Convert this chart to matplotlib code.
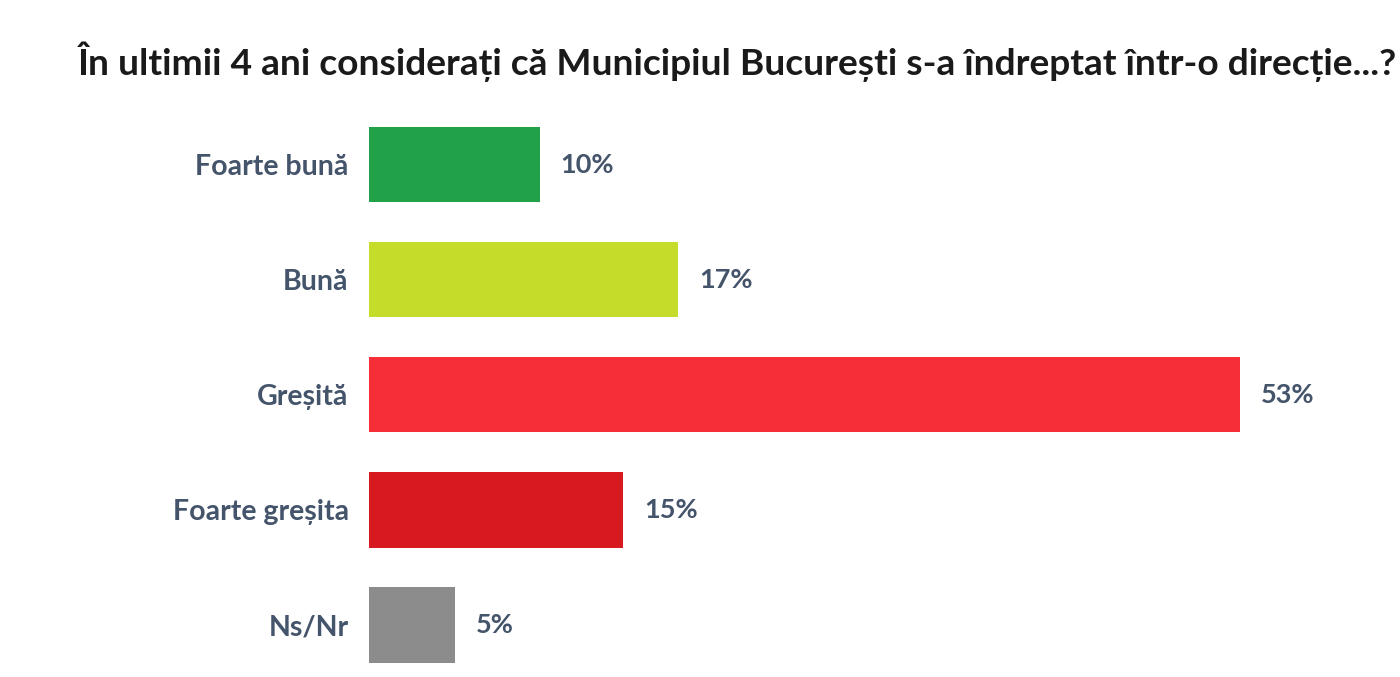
import matplotlib
matplotlib.use("Agg")
import matplotlib.pyplot as plt

# data
categories = ["Foarte bună", "Bună", "Greșită", "Foarte greșita", "Ns/Nr"]
lengths = [10.35, 18.8, 53.0, 15.45, 5.23]   # bar lengths as drawn
labels = ["10%", "17%", "53%", "15%", "5%"]
colors = ["#21A249", "#C5DC2A", "#F52E38", "#D71920", "#8C8C8C"]

title = "În ultimii 4 ani considerați că Municipiul București s-a îndreptat într-o direcție...?"

plt.rcParams['font.family'] = ['Lato', 'DejaVu Sans']
txtcol = "#44546A"

fig = plt.figure(figsize=(14, 6.77), dpi=100)
W, H = 1400, 677
ax = fig.add_axes([369.5 / W, 0, 1020 / W, 570 / H])

y = list(range(len(categories)))
ax.barh(y, lengths, height=0.655, color=colors)
ax.set_xlim(0, 1020 / 16.43)
ax.set_ylim(4.452, -0.5)

for yi, v, lab in zip(y, lengths, labels):
    ax.annotate(lab, (v, yi), xytext=(15, 0), textcoords="offset points",
                va="center", ha="left", fontsize=19.5, fontweight="bold", color=txtcol)

ax.set_yticks(y)
ax.set_yticklabels(categories, fontsize=20.5, fontweight="bold", color=txtcol)
ax.tick_params(axis="y", length=0, pad=15)
ax.set_xticks([])
for s in ax.spines.values():
    s.set_visible(False)

fig.text(737.5 / W, 1 - 62 / H, title, ha="center", va="center",
         fontsize=26.7, fontweight="bold", color="#1A1A1A")

fig.savefig("out.png", dpi=100)
